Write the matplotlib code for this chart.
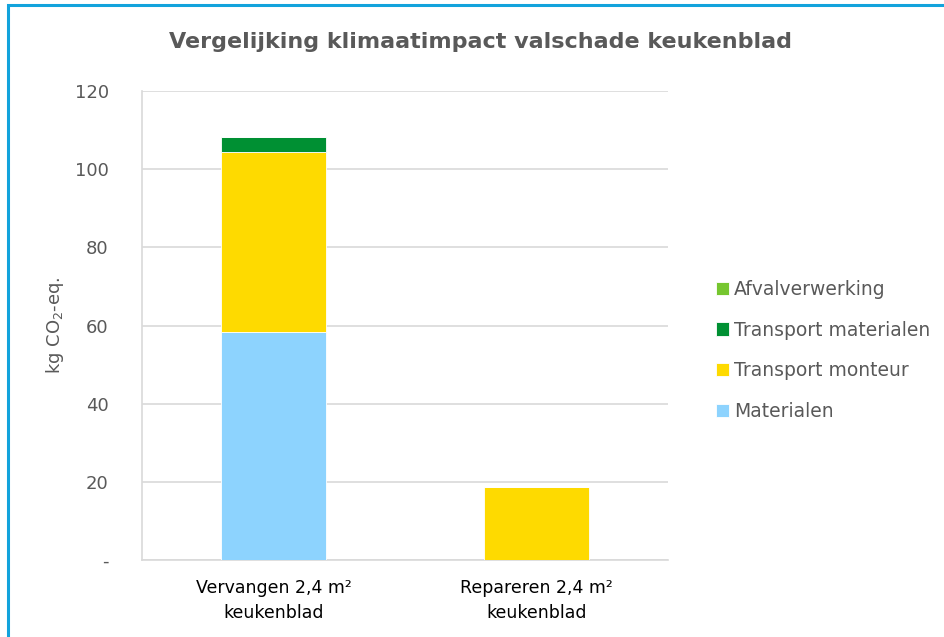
import matplotlib.pyplot as plt
import matplotlib.patches as mpatches
import numpy as np

categories = ["Vervangen 2,4 m\u00b2\nkeukenblad", "Repareren 2,4 m\u00b2\nkeukenblad"]
series_names = ["Materialen", "Transport monteur", "Transport materialen", "Afvalverwerking"]
materialen = [58.3, 0.0]
transport_monteur = [46.1, 18.7]
transport_materialen = [3.8, 0.0]
afvalverwerking = [0.0, 0.0]
colors = ["#8DD3FE", "#FEDA00", "#009033", "#76C62F"]
yticks = [0, 20, 40, 60, 80, 100, 120]
ytick_labels = ["-", "20", "40", "60", "80", "100", "120"]

grey = "#595959"
plt.rcParams['font.family'] = ['DejaVu Sans']

fig = plt.figure(figsize=(9.45, 6.37), dpi=100)
ax = fig.add_axes([0.1503, 0.1209, 0.5566, 0.7362])

x = np.arange(len(categories))
bottom = np.zeros(len(categories))
handles = []
for name, vals, col in zip(series_names,
                           [materialen, transport_monteur, transport_materialen, afvalverwerking],
                           colors):
    b = ax.bar(x, vals, width=0.4, bottom=bottom, color=col, edgecolor="white",
               linewidth=0.6, label=name, zorder=3)
    bottom += np.array(vals)
    handles.append(b)

ax.set_xlim(-0.5, 1.5)
ax.set_ylim(0, 120)
ax.set_yticks(yticks)
ax.set_yticklabels(ytick_labels, color=grey, fontsize=13)
ax.set_xticks(x)
ax.set_xticklabels(categories, color="black", fontsize=12.5, linespacing=1.45)
ax.tick_params(axis='x', length=0, pad=14)
ax.tick_params(axis='y', length=0, pad=24)
ax.grid(axis='y', color="#d9d9d9", linewidth=1.2, zorder=0)
for s in ["top", "right"]:
    ax.spines[s].set_visible(False)
for s in ["left", "bottom"]:
    ax.spines[s].set_color("#d9d9d9")
    ax.spines[s].set_linewidth(1.2)

ax.set_ylabel("kg CO$_2$-eq.", color=grey, fontsize=13, labelpad=6)

fig.text(0.508, 0.934, "Vergelijking klimaatimpact valschade keukenblad",
         ha="center", va="center", fontsize=16, fontweight="bold", color=grey)

leg = fig.legend(handles[::-1], series_names[::-1], loc="center left",
                 bbox_to_anchor=(0.74, 0.45), frameon=False, fontsize=13.5,
                 labelspacing=1.15, handlelength=0.7, handleheight=0.7,
                 handletextpad=0.25)
for t in leg.get_texts():
    t.set_color(grey)

# blue frame around the chart
fig.patches.append(mpatches.Rectangle((0.0085, -0.05), 1.05, 1.042, transform=fig.transFigure,
                                      fill=False, edgecolor="#12A3DC", linewidth=2.2))

fig.savefig("out.png", dpi=100)
